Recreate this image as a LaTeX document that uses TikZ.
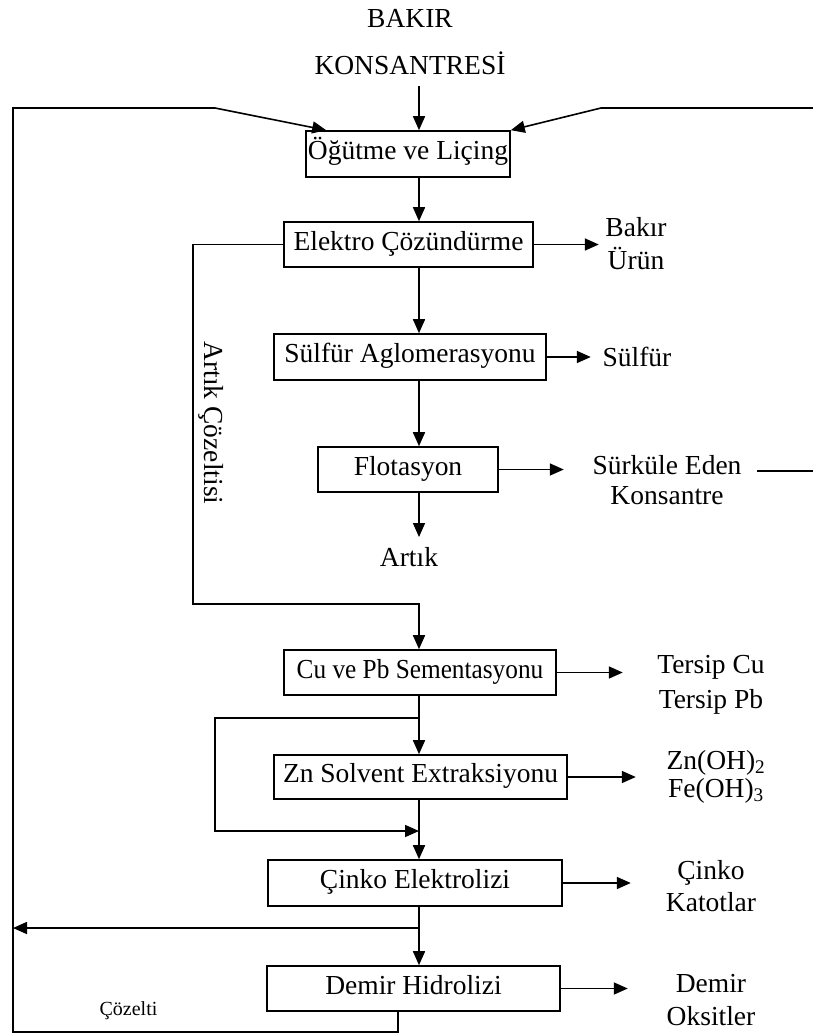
\documentclass[tikz,border=0pt]{standalone}
\usepackage{fontspec}
\setmainfont{Liberation Serif}
\newfontfamily\narrowserif{Liberation Serif}[FakeStretch=0.92]
\usetikzlibrary{arrows.meta}
\begin{document}
\begin{tikzpicture}[x=1pt,y=-1pt, line width=1.6pt,
  font=\fontsize{27.5}{32}\selectfont,
  box/.style={draw, inner sep=0pt, text height=19pt, text depth=8pt},
  arr/.style={-{Triangle[length=14pt,width=12pt]}},
  lbl/.style={align=center, inner sep=0pt}]
\useasboundingbox (0,0) rectangle (813,1034);
% top labels
\node[lbl] (bakir) at (410,18) {BAKIR};
\node[lbl] (kons) at (410,63) {KONSANTRESİ};
% process boxes
\node[box, minimum width=204pt, minimum height=46pt] (A) at (408,154) {Öğütme ve Liçing};
\node[box, minimum width=249pt, minimum height=45pt] (B) at (408.5,244.5) {Elektro Çözündürme};
\node[box, minimum width=272pt, minimum height=46pt] (C) at (410,357) {Sülfür Aglomerasyonu};
\node[box, minimum width=180pt, minimum height=45pt] (D) at (408,469.5) {Flotasyon};
\node[box, minimum width=272pt, minimum height=45pt, font=\narrowserif\fontsize{27.5}{32}\selectfont] (E) at (420,672.5) {Cu ve Pb Sementasyonu};
\node[box, minimum width=293pt, minimum height=44pt] (F) at (420.5,777) {Zn Solvent Extraksiyonu};
\node[box, minimum width=294pt, minimum height=46pt] (G) at (415,883) {Çinko Elektrolizi};
\node[box, minimum width=293pt, minimum height=45pt] (H) at (413.5,988.5) {Demir Hidrolizi};
% product labels
\node[lbl, font=\fontsize{27.5}{33}\selectfont] (bu) at (636,244) {Bakır\\Ürün};
\node[lbl] (sf) at (637,357) {Sülfür};
\node[lbl, font=\fontsize{27.5}{30}\selectfont] (sk) at (667,480) {Sürküle Eden\\Konsantre};
\node[lbl] (artik) at (409,557) {Artık};
\node[lbl, font=\fontsize{27.5}{35}\selectfont] (ts) at (711,685) {Tersip Cu\\Tersip Pb};
\node[lbl, font=\fontsize{27.5}{28}\selectfont] (zo) at (716,777) {Zn(OH)\textsubscript{2}\\Fe(OH)\textsubscript{3}};
\node[lbl] (ck) at (711,886) {Çinko\\Katotlar};
\node[lbl, font=\fontsize{27.5}{33}\selectfont] (do) at (711,1000) {Demir\\Oksitler};
\node[lbl, rotate=-90] (ac) at (211,423) {Artık Çözeltisi};
\node[lbl, font=\fontsize{20}{24}\selectfont] (cz) at (128.5,1011) {Çözelti};
% helper coordinates
\coordinate (sp) at (419,0);
\coordinate (k0) at (419,86);
\coordinate (d1) at (419,537);
\coordinate (tr0) at (813,108);
\coordinate (tr1) at (601,108);
\coordinate (s1) at (757,471);
\coordinate (s2) at (813,471);
\coordinate (h0) at (398,0);
\coordinate (lb) at (13,1032);
\coordinate (lt) at (13,108);
\coordinate (tl1) at (215,108);
\coordinate (b1) at (193,604);
\coordinate (e1) at (419,718);
\coordinate (e2) at (215,831);
\coordinate (g1) at (419,928);
% main spine
\draw[arr] (k0) -- (A.north -| sp);
\draw[arr] (A.south -| sp) -- (B.north -| sp);
\draw[arr] (B.south -| sp) -- (C.north -| sp);
\draw[arr] (C.south -| sp) -- (D.north -| sp);
\draw[arr] (D.south -| sp) -- (d1);
\draw[arr] (E.south -| sp) -- (F.north -| sp);
\draw[arr] (F.south -| sp) -- (G.north -| sp);
\draw[arr] (G.south -| sp) -- (H.north -| sp);
% side products
\draw[arr] (B.east) -- ++(65,0);
\draw[arr] (C.east) -- ++(44,0);
\draw[arr] (D.east) -- ++(65,0);
\draw[arr] (E.east) -- ++(66,0);
\draw[arr] (F.east) -- ++(68,0);
\draw[arr] (G.east) -- ++(68,0);
\draw[arr] (H.east) -- ++(67,0);
\draw (s1) -- (s2);
% recycle loops
\draw[arr] (tr0) -- (tr1) -- (A.north east);
\draw[arr] (H.south -| h0) |- (lb) -- (lt) -- (tl1) -- ([xshift=21pt]A.north west);
\draw[arr] (B.west) -| (b1) -- (b1 -| sp) -- (E.north -| sp);
\draw[arr] (e1) -| (e2) -- (e2 -| sp);
\draw[arr] (g1) -- (g1 -| lb);
\end{tikzpicture}
\end{document}
